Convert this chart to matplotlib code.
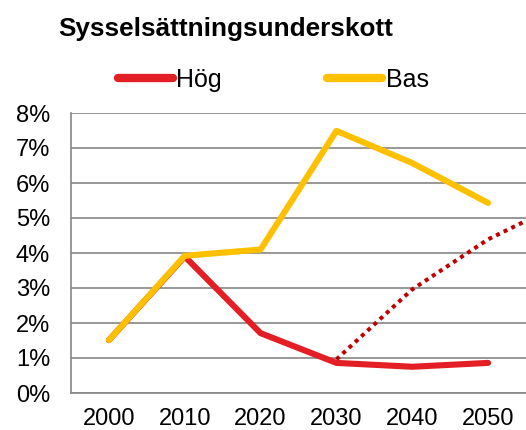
import matplotlib
matplotlib.use("Agg")
import matplotlib.pyplot as plt
import numpy as np

plt.rcParams['font.family'] = ['Liberation Sans', 'DejaVu Sans']

# data
years = ["2000", "2010", "2020", "2030", "2040", "2050"]
hog = [1.51, 3.9, 1.71, 0.86, 0.75, 0.86]
bas = [1.51, 3.92, 4.1, 7.49, 6.57, 5.43]
# dotted alternative from 2030, continuing past the last category (clipped)
alt_pos = [3, 4, 5, 6]
alt_vals = [0.96, 2.96, 4.39, 5.45]

fig = plt.figure(figsize=(5.26, 4.30), dpi=100)
ax = fig.add_axes([71/526, 1 - 393/430, 455/526, 280/430])

x = np.arange(len(years))
ax.plot(x, hog, color="#E31E24", lw=4.4, solid_capstyle="round", label="Hög", zorder=3)
ax.plot(x, bas, color="#FFC000", lw=4.4, solid_capstyle="round", label="Bas", zorder=4)
ax.plot(alt_pos, alt_vals, color="#C00000", lw=2.9, linestyle=(0, (1, 1.1)),
        dash_capstyle="butt", zorder=2)

ax.set_xlim(-0.5, 5.5)
ax.set_ylim(0, 8)
ax.set_yticks(range(0, 9))
ax.set_yticklabels([f"{v}%" for v in range(0, 9)])
ax.set_xticks(x)
ax.set_xticklabels(years)
ax.tick_params(axis="both", length=0, labelsize=17)
ax.tick_params(axis="y", pad=15)
ax.tick_params(axis="x", pad=11)

ax.grid(axis="y", color="#868686", lw=1.2)
ax.set_axisbelow(True)
for s in ["top", "right"]:
    ax.spines[s].set_visible(False)
for s in ["left", "bottom"]:
    ax.spines[s].set_color("#868686")
    ax.spines[s].set_linewidth(1.2)

fig.text(58/526, 1 - 29/430, "Sysselsättningsunderskott", fontsize=18.8,
         fontweight="bold", va="center", ha="left")

leg = fig.legend(loc="center left", bbox_to_anchor=(95/526, 1 - 80/430), ncol=2,
                 frameon=False, fontsize=18, handlelength=2.2, handletextpad=0.15,
                 columnspacing=4.2)
for h in leg.get_lines():
    h.set_linewidth(6)
    h.set_solid_capstyle("round")

fig.savefig("out.png", dpi=100)
